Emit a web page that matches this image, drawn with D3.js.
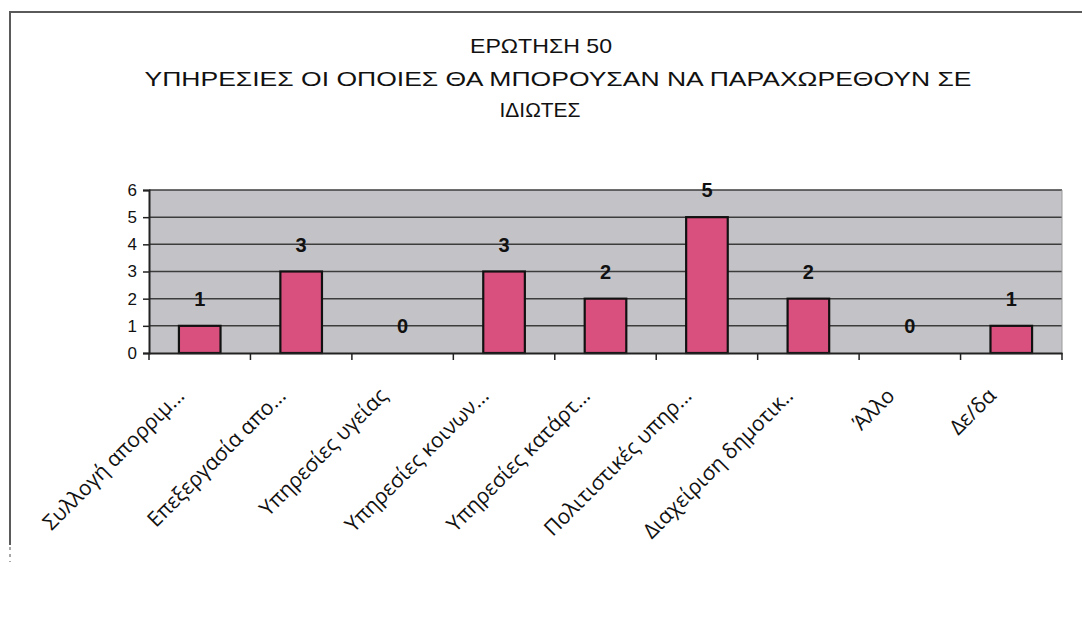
<!DOCTYPE html>
<html><head><meta charset="utf-8">
<script src="https://cdn.jsdelivr.net/npm/d3@7"></script>
<style>html,body{margin:0;padding:0;background:#fff;}</style>
</head><body>
<svg id="c" width="1082" height="634"></svg>
<script>
const titleLines = ["ΕΡΩΤΗΣΗ 50", "ΥΠΗΡΕΣΙΕΣ ΟΙ ΟΠΟΙΕΣ ΘΑ ΜΠΟΡΟΥΣΑΝ ΝΑ ΠΑΡΑΧΩΡΕΘΟΥΝ ΣΕ", "ΙΔΙΩΤΕΣ"];
const categories = ["Συλλογή απορριμ...", "Επεξεργασία απο...", "Υπηρεσίες υγείας", "Υπηρεσίες κοινων...", "Υπηρεσίες κατάρτ...", "Πολιτιστικές υπηρ...", "Διαχείριση δημοτικ..", "Άλλο", "Δε/δα"];
const values = [1, 3, 0, 3, 2, 5, 2, 0, 1];
const yTicks = [0, 1, 2, 3, 4, 5, 6];

const svg = d3.select("#c");
const L = 149, R = 1062, T = 190, B = 353;

// outer frame
svg.append("path").attr("d", `M10,545 V12 H1082`).attr("fill", "none").attr("stroke", "#5a5a5a").attr("stroke-width", 2);
svg.append("line").attr("x1", 10).attr("x2", 10).attr("y1", 547).attr("y2", 562)
  .attr("stroke", "#8a8a8a").attr("stroke-width", 1.5).attr("stroke-dasharray", "3,4");

// title
const titleY = [53, 86, 117];
const titleX = [541, 558, 540];
const titleW = [142, 827, 81];
titleLines.forEach((t, i) => {
  svg.append("text").attr("x", titleX[i]).attr("y", titleY[i]).attr("text-anchor", "middle")
    .attr("font-family", "Liberation Sans, Arial, sans-serif").attr("font-size", 21)
    .attr("textLength", titleW[i]).attr("lengthAdjust", "spacingAndGlyphs")
    .attr("fill", "#111").text(t);
});

const x = d3.scaleBand().domain(categories).range([L, R]).padding(0);
const y = d3.scaleLinear().domain([0, 6]).range([B, T]);

svg.append("rect").attr("x", L).attr("y", T).attr("width", R - L).attr("height", B - T).attr("fill", "#c3c3c7");

// gridlines
svg.append("g").selectAll("line").data(yTicks.filter(d => d > 0)).join("line")
  .attr("x1", L).attr("x2", R).attr("y1", d => y(d)).attr("y2", d => y(d))
  .attr("stroke", "#3c3c3c").attr("stroke-width", 1.5);
svg.append("line").attr("x1", R).attr("x2", R).attr("y1", T).attr("y2", B).attr("stroke", "#9a9a9a").attr("stroke-width", 1);

// y axis
const yAxis = svg.append("g").attr("transform", `translate(${L},0)`)
  .call(d3.axisLeft(y).tickValues(yTicks).tickFormat(d3.format("d")).tickSize(6).tickPadding(6));
yAxis.select(".domain").attr("stroke", "#222").attr("stroke-width", 2);
yAxis.selectAll(".tick line").attr("stroke", "#222").attr("stroke-width", 1.5);
yAxis.selectAll("text").attr("font-family", "Liberation Sans, Arial, sans-serif").attr("font-size", 17).attr("fill", "#111");

// bars
const bw = x.bandwidth() * 0.41;
svg.append("g").selectAll("rect").data(categories).join("rect")
  .attr("x", (d) => x(d) + x.bandwidth() / 2 - bw / 2)
  .attr("y", (d, i) => y(values[i]))
  .attr("width", bw)
  .attr("height", (d, i) => B - y(values[i]))
  .attr("fill", "#d9507f").attr("stroke", "#111").attr("stroke-width", 2.2);

// x axis
const xAxis = svg.append("g").attr("transform", `translate(0,${B})`)
  .call(d3.axisBottom(x).tickSize(0).tickFormat(""));
xAxis.select(".domain").attr("stroke", "#222").attr("stroke-width", 2);
const edges = d3.range(categories.length + 1).map(i => L + i * x.step());
svg.append("g").selectAll("line").data(edges).join("line")
  .attr("x1", d => d).attr("x2", d => d).attr("y1", B).attr("y2", B + 7)
  .attr("stroke", "#222").attr("stroke-width", 1.5);

// value labels
svg.append("g").selectAll("text").data(categories).join("text")
  .attr("x", d => x(d) + x.bandwidth() / 2)
  .attr("y", (d, i) => y(values[i]) - 20)
  .attr("text-anchor", "middle")
  .attr("font-family", "Liberation Sans, Arial, sans-serif").attr("font-weight", "bold").attr("font-size", 20)
  .attr("fill", "#111").text((d, i) => values[i]);

// category labels
svg.append("g").selectAll("text").data(categories).join("text")
  .attr("transform", d => `translate(${x(d) + x.bandwidth() / 2 - 14},${B + 44}) rotate(-45)`)
  .attr("text-anchor", "end")
  .attr("font-family", "Open Sans, Noto Sans, sans-serif").attr("font-size", 21)
  .attr("fill", "#111").text(d => d);
</script>
</body></html>
